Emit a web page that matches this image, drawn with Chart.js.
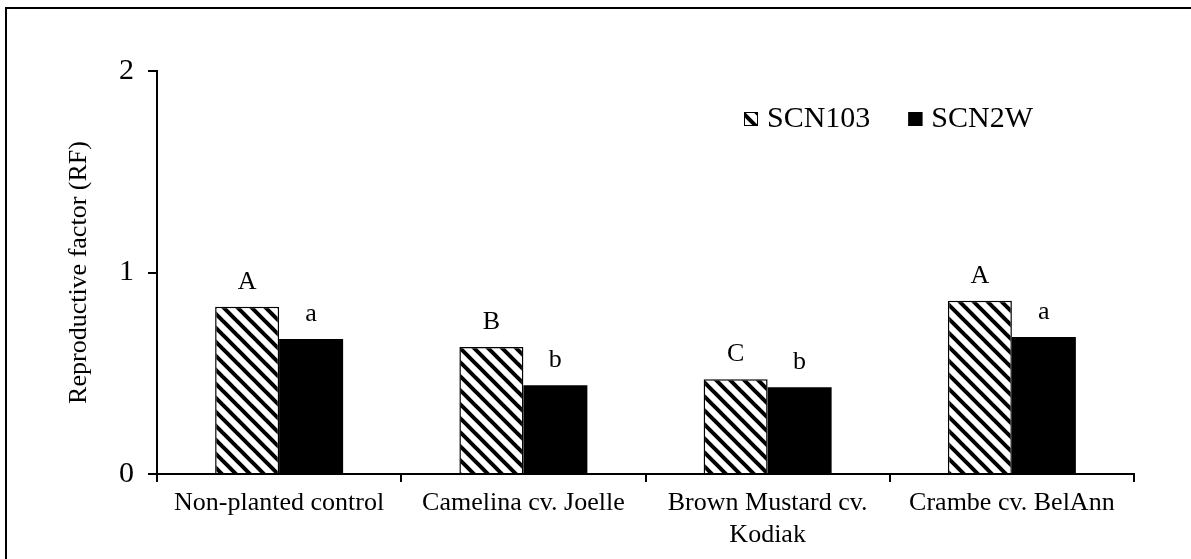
<!DOCTYPE html>
<html><head><meta charset="utf-8">
<script src="https://cdn.jsdelivr.net/npm/chart.js@4.4.0/dist/chart.umd.min.js"></script>
<style>html,body{margin:0;padding:0;background:#fff;overflow:hidden}</style>
</head><body>
<canvas id="c" width="1191" height="559" style="width:1191px;height:559px;display:block"></canvas>
<script>
// ---- data ----
const categories = ['Non-planted control', 'Camelina cv. Joelle', ['Brown Mustard cv.', 'Kodiak'], 'Crambe cv. BelAnn'];
const seriesNames = ['SCN103', 'SCN2W'];
const scn103 = [0.83, 0.63, 0.47, 0.86];
const scn2w = [0.67, 0.44, 0.43, 0.68];
const letters103 = ['A', 'B', 'C', 'A'];
const letters2w = ['a', 'b', 'b', 'a'];
const yMin = 0, yMax = 2, yStep = 1;
const yTitle = 'Reproductive factor (RF)';

// ---- styles ----
const FONT = '"Liberation Serif", "Times New Roman", serif';

function makeHatch() {
  const s = 14;
  const cv = document.createElement('canvas');
  cv.width = s; cv.height = s;
  const g = cv.getContext('2d');
  g.fillStyle = '#fff'; g.fillRect(0, 0, s, s);
  g.strokeStyle = '#000'; g.lineWidth = 4;
  for (let k = -1; k <= 1; k++) {
    g.beginPath();
    g.moveTo(k * s - 2, -2);
    g.lineTo(k * s + s + 2, s + 2);
    g.stroke();
  }
  return document.getElementById('c').getContext('2d').createPattern(cv, 'repeat');
}
const hatch = makeHatch();

const extras = {
  id: 'extras',
  beforeDraw(chart) {
    const ctx = chart.ctx;
    ctx.save();
    ctx.fillStyle = '#fff';
    ctx.fillRect(0, 0, chart.width, chart.height);
    ctx.restore();
  },
  afterDraw(chart) {
    const ctx = chart.ctx;
    ctx.save();
    // outer frame (left + top visible)
    ctx.strokeStyle = '#000'; ctx.lineWidth = 2;
    ctx.strokeRect(6, 8, 1300, 700);
    // letters
    ctx.fillStyle = '#000';
    ctx.font = '26px ' + FONT;
    ctx.textAlign = 'center'; ctx.textBaseline = 'alphabetic';
    const lets = [letters103, letters2w];
    chart.data.datasets.forEach((ds, di) => {
      chart.getDatasetMeta(di).data.forEach((bar, i) => {
        ctx.fillText(lets[di][i], bar.x, bar.y - 18);
      });
    });
    // legend
    ctx.font = '30px ' + FONT;
    ctx.textAlign = 'left';
    let x = 744; const base = 127, box = 14;
    chart.data.datasets.forEach((ds, di) => {
      ctx.fillStyle = ds.backgroundColor;
      ctx.fillRect(x, base - box - 1, box, box);
      ctx.strokeStyle = '#000'; ctx.lineWidth = 1;
      ctx.strokeRect(x + 0.5, base - box - 0.5, box - 1, box - 1);
      ctx.fillStyle = '#000';
      ctx.fillText(ds.label, x + box + 9, base);
      x += box + 9 + ctx.measureText(ds.label).width + 38;
    });
    ctx.restore();
  }
};

new Chart(document.getElementById('c'), {
  type: 'bar',
  data: {
    labels: categories,
    datasets: [
      { label: seriesNames[0], data: scn103, backgroundColor: hatch, borderColor: '#000', borderWidth: 1.5,
        categoryPercentage: 0.524, barPercentage: 1 },
      { label: seriesNames[1], data: scn2w, backgroundColor: '#000', borderWidth: 0,
        categoryPercentage: 0.524, barPercentage: 1 }
    ]
  },
  options: {
    responsive: false,
    animation: false,
    devicePixelRatio: 1,
    layout: { padding: { left: 0, right: 57, top: 71, bottom: 0 } },
    plugins: { legend: { display: false }, tooltip: { enabled: false } },
    scales: {
      x: {
        offset: true,
        grid: { offset: true, drawOnChartArea: false, drawTicks: true, tickLength: 8, color: '#000', lineWidth: 2 },
        border: { color: '#000', width: 2 },
        ticks: { font: { family: FONT, size: 26 }, color: '#000', padding: 6, maxRotation: 0, autoSkip: false },
        afterFit: s => { s.height = 85; }
      },
      y: {
        min: yMin, max: yMax,
        grid: { drawOnChartArea: false, drawTicks: true, tickLength: 9, color: '#000', lineWidth: 2 },
        border: { color: '#000', width: 2 },
        ticks: { stepSize: yStep, font: { family: FONT, size: 30 }, color: '#000', padding: 14 },
        title: { display: true, text: yTitle, font: { family: FONT, size: 26 }, color: '#000', padding: { top: 64, bottom: 0 } },
        afterFit: s => { s.width = 157; }
      }
    }
  },
  plugins: [extras]
});
</script>
</body></html>
